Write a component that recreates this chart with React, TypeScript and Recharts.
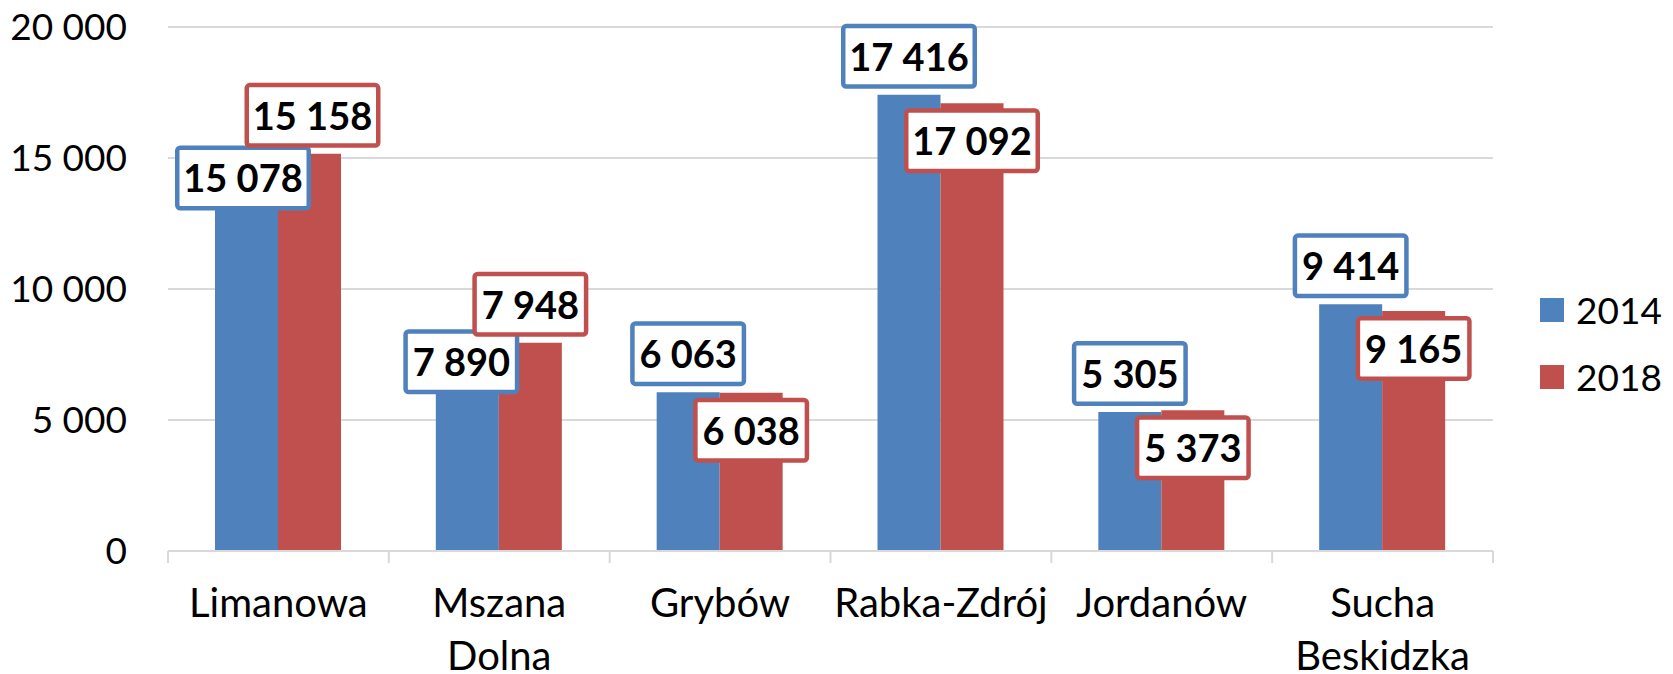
import React from 'react';
import { BarChart, Bar, XAxis, YAxis, CartesianGrid, Legend, LabelList } from 'recharts';

const categories = ['Limanowa', 'Mszana Dolna', 'Grybów', 'Rabka-Zdrój', 'Jordanów', 'Sucha Beskidzka'];
const values2014 = [15078, 7890, 6063, 17416, 5305, 9414];
const values2018 = [15158, 7948, 6038, 17092, 5373, 9165];
const seriesNames = ['2014', '2018'];
const yTicks = [0, 5000, 10000, 15000, 20000];

const BLUE = '#4F81BD';
const RED = '#C0504D';
const GRID = '#D9D9D9';
const FONT = 'Lato, "Noto Sans", sans-serif';

// label box placement relative to bar top (styling, not data)
const labelOffsets2014: [number, number][] = [[-3.5, 22], [-6, 17.5], [0, -38.5], [0, -38.5], [0, -38.5], [0, -38.5]];
const labelOffsets2018: [number, number][] = [[3, -38.5], [0, -38.5], [0, 37.5], [0, 37.5], [0, 37.5], [0, 37.5]];

const data = categories.map((name, i) => ({ name, v2014: values2014[i], v2018: values2018[i] }));

const fmt = (v: number) => String(v).replace(/\B(?=(\d{3})+(?!\d))/g, ' ');

const makeLabel = (offsets: [number, number][], color: string) => (props: any) => {
  const { x, y, width, value, index } = props;
  const [dx, dy] = offsets[index] || [0, 0];
  const text = fmt(Number(value));
  const nDigits = text.replace(/\s/g, '').length;
  const nSpaces = text.length - nDigits;
  const w = nDigits * 20 + nSpaces * 13 + 23;
  const h = 65;
  const cx = Number(x) + Number(width) / 2 + dx;
  const cy = Number(y) + dy;
  const sw = 4.5;
  return (
    <g>
      <rect x={cx - w / 2 + sw / 2} y={cy - h / 2 + sw / 2} width={w - sw} height={h - sw} rx={3} ry={3} fill="#fff" stroke={color} strokeWidth={sw} />
      <text x={cx} y={cy + 14.5} textAnchor="middle" fontFamily={FONT} fontWeight="bold" fontSize={38} fill="#000">{text}</text>
    </g>
  );
};

const CategoryTick = (props: any) => {
  const { x, y, payload, index, width, visibleTicksCount } = props;
  const count = visibleTicksCount || categories.length;
  const band = (width || 1325) / count;
  const lines = String(payload.value).split(' ');
  const left = x - band / 2;
  const right = x + band / 2;
  return (
    <g>
      <line x1={left} x2={left} y1={y} y2={y + 12} stroke={GRID} strokeWidth={2} />
      {index === count - 1 && <line x1={right} x2={right} y1={y} y2={y + 12} stroke={GRID} strokeWidth={2} />}
      <text x={x} y={y + 66} textAnchor="middle" fontFamily={FONT} fontSize={40} fill="#000">
        {lines.map((l, i) => (
          <tspan key={i} x={x} dy={i === 0 ? 0 : 53}>{l}</tspan>
        ))}
      </text>
    </g>
  );
};

const LegendContent = (props: any) => {
  const payload = (props.payload || []).filter((p: any) => p.type !== 'none');
  return (
    <div style={{ fontFamily: FONT, fontSize: 37, color: '#000' }}>
      {payload.map((p: any, i: number) => (
        <div key={i} style={{ display: 'flex', alignItems: 'center', height: 24, marginBottom: 43 }}>
          <div style={{ width: 24, height: 24, background: p.color, flexShrink: 0 }} />
          <span style={{ marginLeft: 12, lineHeight: '24px', whiteSpace: 'nowrap' }}>{p.value}</span>
        </div>
      ))}
    </div>
  );
};

export default function App() {
  return (
    <div style={{ position: 'absolute', left: 0, top: 0, width: 1673, height: 674, background: '#fff' }}>
      <BarChart
        width={1673}
        height={674}
        data={data}
        margin={{ top: 27, right: 180, bottom: 0, left: 0 }}
        barGap={0}
        style={{ fontFamily: FONT }}
      >
        <CartesianGrid vertical={false} stroke={GRID} strokeWidth={2} />
        <XAxis
          dataKey="name"
          height={123}
          axisLine={{ stroke: GRID, strokeWidth: 2 }}
          tickLine={false}
          tickSize={0}
          tickMargin={0}
          interval={0}
          tick={<CategoryTick />}
        />
        <XAxis xAxisId="lbl" dataKey="name" hide />
        <YAxis
          width={168}
          domain={[0, 20000]}
          ticks={yTicks}
          axisLine={false}
          tickLine={false}
          tickSize={0}
          tickMargin={41}
          tickFormatter={fmt}
          tick={{ fontSize: 37, fill: '#000', fontFamily: FONT }}
        />
        <Legend
          layout="horizontal"
          verticalAlign="middle"
          align="center"
          wrapperStyle={{ position: 'absolute', left: 1540, top: 298, width: 133, height: 120 }}
          content={<LegendContent />}
        />
        <Bar dataKey="v2014" name={seriesNames[0]} fill={BLUE} barSize={63} isAnimationActive={false} />
        <Bar dataKey="v2018" name={seriesNames[1]} fill={RED} barSize={63} isAnimationActive={false} />
        <Bar xAxisId="lbl" dataKey="v2014" fill="transparent" barSize={63} legendType="none" isAnimationActive={false}>
          <LabelList dataKey="v2014" content={makeLabel(labelOffsets2014, BLUE)} />
        </Bar>
        <Bar xAxisId="lbl" dataKey="v2018" fill="transparent" barSize={63} legendType="none" isAnimationActive={false}>
          <LabelList dataKey="v2018" content={makeLabel(labelOffsets2018, RED)} />
        </Bar>
      </BarChart>
    </div>
  );
}
